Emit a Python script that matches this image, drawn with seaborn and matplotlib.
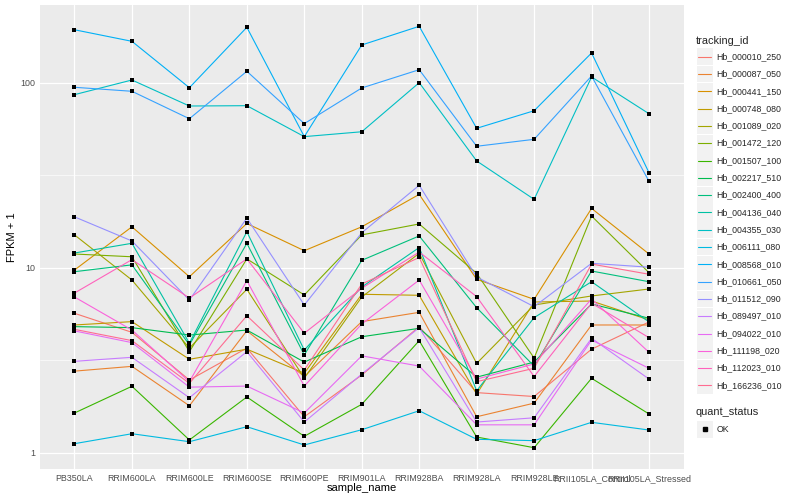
import numpy as np
import pandas as pd
import matplotlib
matplotlib.use("Agg")
import matplotlib.pyplot as plt
import seaborn as sns
from matplotlib.lines import Line2D
from matplotlib.patches import Rectangle
from matplotlib.ticker import FixedLocator, NullFormatter

samples = ["PB350LA", "RRIM600LA", "RRIM600LE", "RRIM600SE", "RRIM600PE",
           "RRIM901LA", "RRIM928BA", "RRIM928LA", "RRIM928LE",
           "RRII105LA_Control", "RRII105LA_Stressed"]

tracking_ids = ["Hb_000010_250", "Hb_000087_050", "Hb_000441_150", "Hb_000748_080",
                "Hb_001089_020", "Hb_001472_120", "Hb_001507_100", "Hb_002217_510",
                "Hb_002400_400", "Hb_004136_040", "Hb_004355_030", "Hb_006111_080",
                "Hb_008568_010", "Hb_010661_050", "Hb_011512_090", "Hb_089497_010",
                "Hb_094022_010", "Hb_111198_020", "Hb_112023_010", "Hb_166236_010"]

palette = ["#F8766D", "#EA8331", "#D89000", "#C09B00", "#A3A500", "#7CAE00",
           "#39B600", "#00BB4E", "#00BF7D", "#00C1A3", "#00BFC4", "#00BAE0",
           "#00B0F6", "#35A2FF", "#9590FF", "#C77CFF", "#E76BF3", "#FA62DB",
           "#FF62BC", "#FF6C91"]

# FPKM + 1 per sample (order of `samples`)
Hb_000010_250 = [5.69, 4.49, 2.48, 3.69, 1.57, 2.64, 4.82, 2.12, 2.02, 3.64, 5.11]
Hb_000087_050 = [2.77, 2.94, 1.80, 4.58, 2.59, 5.13, 5.76, 1.57, 1.86, 4.92, 4.92]
Hb_000441_150 = [9.75, 16.7, 8.97, 17.4, 12.4, 16.7, 25.0, 8.69, 6.77, 21.0, 11.9]
Hb_000748_080 = [4.92, 5.13, 3.21, 3.64, 2.70, 7.21, 7.12, 2.08, 6.55, 6.63, 5.24]
Hb_001089_020 = [15.1, 8.61, 3.69, 7.67, 2.54, 6.97, 12.0, 3.05, 6.31, 7.06, 7.70]
Hb_001472_120 = [11.9, 11.5, 3.53, 11.2, 7.15, 15.1, 17.3, 9.36, 3.26, 19.1, 9.43]
Hb_001507_100 = [1.645, 2.294, 1.176, 2.008, 1.231, 1.833, 4.046, 1.220, 1.068, 2.534, 1.625]
Hb_002217_510 = [4.82, 4.76, 4.34, 4.62, 3.10, 4.25, 4.72, 2.57, 3.10, 6.39, 5.35]
Hb_002400_400 = [9.55, 10.4, 3.84, 13.6, 3.39, 11.0, 14.9, 6.10, 2.95, 9.63, 8.43]
Hb_004136_040 = [12.05, 13.6, 3.92, 15.7, 3.60, 7.89, 12.9, 2.17, 5.39, 8.43, 5.11]
Hb_004355_030 = [86.5, 103.8, 75.1, 75.4, 51.3, 54.5, 100.4, 37.9, 23.5, 107.8, 68.2]
Hb_006111_080 = [1.123, 1.271, 1.151, 1.387, 1.105, 1.336, 1.692, 1.186, 1.166, 1.465, 1.331]
Hb_008568_010 = [194, 168, 94.3, 200, 51.3, 160.5, 202.5, 56.9, 70.8, 145.3, 32.7]
Hb_010661_050 = [94.8, 90.2, 64.1, 115.7, 60.3, 94.0, 118.0, 45.5, 49.6, 109.1, 29.4]
Hb_011512_090 = [18.9, 14.0, 6.71, 18.6, 6.31, 15.5, 28.0, 8.94, 6.18, 10.6, 10.1]
Hb_089497_010 = [3.13, 3.29, 1.99, 3.53, 1.47, 2.67, 4.76, 1.47, 1.55, 4.17, 2.51]
Hb_094022_010 = [4.57, 3.95, 2.27, 2.30, 1.645, 3.35, 2.95, 1.42, 1.42, 4.08, 2.87]
Hb_111198_020 = [6.97, 4.62, 2.43, 8.54, 2.30, 4.98, 8.61, 2.51, 3.03, 6.80, 3.50]
Hb_112023_010 = [7.32, 11.1, 6.88, 11.2, 4.44, 7.77, 12.2, 7.0, 2.59, 6.45, 4.20]
Hb_166236_010 = [4.66, 4.05, 2.38, 5.52, 2.81, 8.19, 11.4, 2.43, 2.87, 10.5, 9.25]

series = [Hb_000010_250, Hb_000087_050, Hb_000441_150, Hb_000748_080, Hb_001089_020,
          Hb_001472_120, Hb_001507_100, Hb_002217_510, Hb_002400_400, Hb_004136_040,
          Hb_004355_030, Hb_006111_080, Hb_008568_010, Hb_010661_050, Hb_011512_090,
          Hb_089497_010, Hb_094022_010, Hb_111198_020, Hb_112023_010, Hb_166236_010]

rows = []
for tid, vals in zip(tracking_ids, series):
    for i, (s, v) in enumerate(zip(samples, vals)):
        rows.append({"tracking_id": tid, "sample_name": s, "pos": i,
                     "fpkm1": v, "quant_status": "OK"})
df = pd.DataFrame(rows)

sns.set_theme(style="darkgrid")
FONT = ["Liberation Sans", "DejaVu Sans"]
plt.rcParams["font.family"] = FONT

W, H = 800, 500
fig = plt.figure(figsize=(W / 100, H / 100), dpi=100)
fig.patch.set_facecolor("white")

def fx(x):
    return x / W

def fy(y):
    return 1 - y / H

left, right, top, bottom = 40, 683.5, 5, 469
ax = fig.add_axes([fx(left), fy(bottom), fx(right) - fx(left), fy(top) - fy(bottom)])
ax.set_facecolor("#EBEBEB")
for sp in ax.spines.values():
    sp.set_visible(False)

sns.lineplot(data=df, x="pos", y="fpkm1", hue="tracking_id", hue_order=tracking_ids,
             palette=palette, estimator=None, sort=False, linewidth=0.8,
             legend=False, ax=ax, zorder=3)
sns.scatterplot(data=df, x="pos", y="fpkm1", color="black", marker="s", s=5,
                linewidth=0, legend=False, ax=ax, zorder=4)

ax.set_yscale("log")
ax.set_ylim(10 ** -0.0865, 10 ** 2.4216)
ax.set_xlim(-0.6, len(samples) - 1 + 0.6)

ax.set_yticks([1, 10, 100])
ax.set_yticklabels(["1", "10", "100"])
ax.yaxis.set_minor_locator(FixedLocator([10 ** 0.5, 10 ** 1.5]))
ax.yaxis.set_minor_formatter(NullFormatter())
ax.set_xticks(range(len(samples)))
ax.set_xticklabels(samples)

ax.grid(which="major", color="white", linewidth=0.9)
ax.grid(which="minor", axis="y", color="white", linewidth=0.45)
ax.set_axisbelow(True)
ax.tick_params(axis="both", which="major", length=2.0, width=0.6, color="#333333",
               labelsize=6.4, labelcolor="#4D4D4D", pad=1.5)
ax.tick_params(axis="y", which="minor", length=0)
ax.tick_params(axis="x", which="minor", length=0)

ax.set_xlabel("sample_name", fontsize=8, color="black")
ax.set_ylabel("FPKM + 1", fontsize=8, color="black")
ax.xaxis.set_label_coords((362 - left) / (right - left), (bottom - 483) / (bottom - top))
ax.yaxis.set_label_coords((17 - left) / (right - left), 0.5)

# legend (ggplot style)
fig.text(fx(696), fy(40.5), "tracking_id", fontsize=7.9, va="center", ha="left")
step = 17.3
for i, (tid, col) in enumerate(zip(tracking_ids, palette)):
    cy = 56.7 + i * step
    fig.add_artist(Rectangle((fx(696.5), fy(cy + 8.4)), 16.2 / W, 16.8 / H,
                             facecolor="#F2F2F2", edgecolor="none", transform=fig.transFigure))
    fig.add_artist(Line2D([fx(698.2), fx(711)], [fy(cy), fy(cy)], color=col,
                          linewidth=0.8, transform=fig.transFigure))
    fig.text(fx(716.5), fy(cy), tid, fontsize=6.3, va="center", ha="left")

fig.text(fx(696), fy(412.3), "quant_status", fontsize=7.9, va="center", ha="left")
cy = 429.2
fig.add_artist(Rectangle((fx(696.5), fy(cy + 8.4)), 16.2 / W, 16.8 / H,
                         facecolor="#F2F2F2", edgecolor="none", transform=fig.transFigure))
fig.add_artist(Line2D([fx(704.6)], [fy(cy)], color="black", marker="s", markersize=2.2,
                      linestyle="none", transform=fig.transFigure))
fig.text(fx(716.5), fy(cy), "OK", fontsize=6.3, va="center", ha="left")

fig.savefig("out.png", dpi=100)
